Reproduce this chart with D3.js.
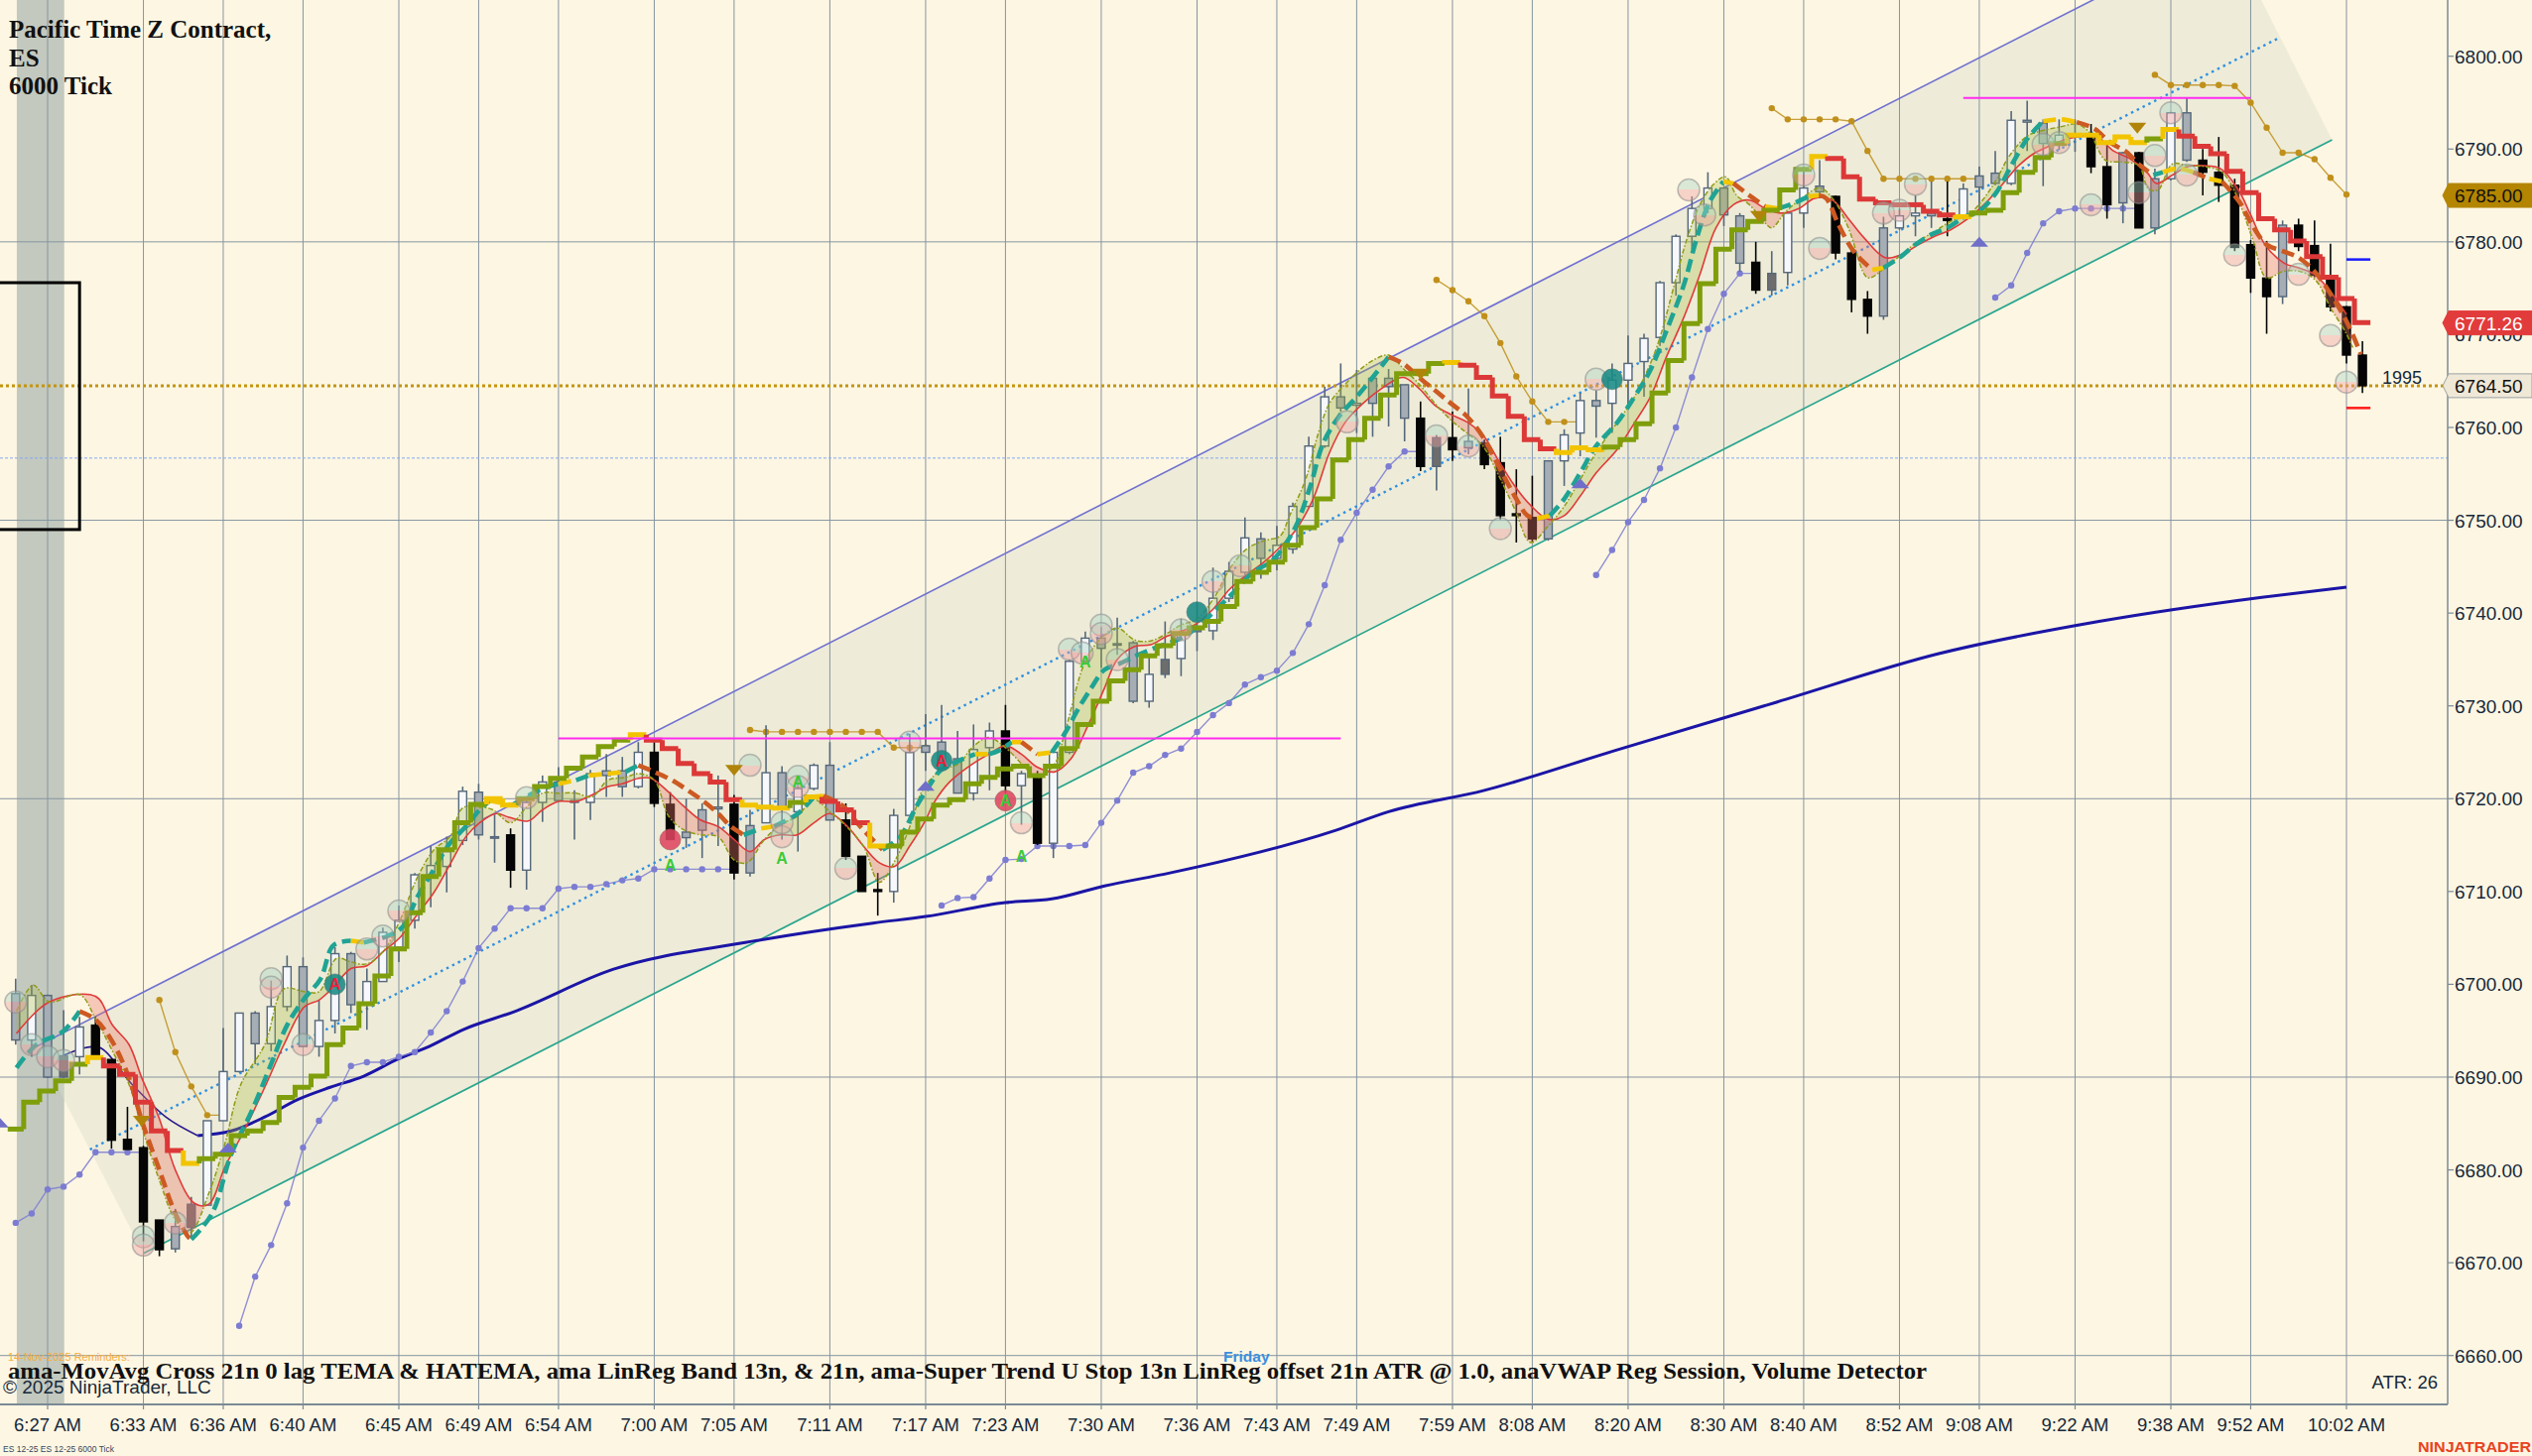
<!DOCTYPE html>
<html>
<head>
<meta charset="utf-8">
<script src="https://cdn.jsdelivr.net/npm/d3@7/dist/d3.min.js"></script>
<style>
  html, body { margin: 0; padding: 0; background: #fdf6e3; }
  svg { display: block; }
</style>
</head>
<body>
<div id="chart"></div>
<script>
// ES 12-25, 6000 tick, Pacific time. Bar index 0 = the 6:27 AM bar.
const firstBar = -2;

const opens = [6694.0, 6694.0, 6698.8, 6692.3, 6692.2, 6695.6, 6691.9, 6683.3, 6682.4, 6674.6,
  6671.5, 6673.8, 6676.2, 6685.3, 6690.6, 6696.9, 6693.6, 6697.6, 6701.9, 6693.3,
  6696.1, 6703.3, 6697.8, 6700.3, 6704.0, 6706.9, 6711.8, 6712.7, 6715.5, 6720.7,
  6715.9, 6716.1, 6712.3, 6719.6, 6719.8, 6719.8, 6719.6, 6722.5, 6723.0, 6721.3,
  6725.0, 6719.4, 6716.4, 6718.8, 6719.1, 6719.4, 6712.0, 6717.4, 6722.8, 6718.6,
  6721.1, 6723.6, 6717.7, 6713.8, 6710.2, 6710.0, 6718.2, 6725.0, 6723.2, 6724.3,
  6720.6, 6725.5, 6727.3, 6721.4, 6722.5, 6715.2, 6725.0, 6734.8, 6737.3, 6736.7,
  6736.8, 6730.5, 6735.0, 6735.1, 6738.2, 6738.1, 6741.6, 6744.4, 6748.0, 6745.9,
  6746.9, 6751.5, 6758.0, 6763.3, 6762.4, 6762.6, 6765.3, 6764.6, 6761.0, 6755.8,
  6758.9, 6758.5, 6758.3, 6756.2, 6750.7, 6750.3, 6748.0, 6756.4, 6759.4, 6762.9,
  6762.6, 6765.1, 6767.1, 6769.7, 6775.6, 6780.6, 6783.6, 6785.8, 6782.8, 6777.8,
  6774.8, 6776.7, 6783.1, 6785.4, 6784.9, 6778.8, 6773.8, 6772.0, 6781.5, 6782.8,
  6783.1, 6782.5, 6782.7, 6785.9, 6786.3, 6786.3, 6793.1, 6792.8, 6790.6, 6791.6,
  6791.3, 6788.1, 6784.2, 6789.6, 6781.5, 6786.8, 6793.9, 6788.8, 6787.5, 6786.1,
  6779.7, 6776.1, 6774.1, 6781.8, 6779.6, 6776.0, 6773.0, 6767.8];

const highs = [6700.6, 6699.9, 6698.9, 6697.2, 6696.5, 6696.5, 6691.9, 6686.8, 6682.6, 6674.6,
  6675.8, 6677.1, 6685.3, 6695.3, 6696.9, 6697.1, 6700.4, 6703.1, 6702.9, 6698.3,
  6704.0, 6703.5, 6701.7, 6706.1, 6708.5, 6712.0, 6714.9, 6715.9, 6721.3, 6721.6,
  6718.3, 6716.8, 6719.8, 6722.5, 6723.4, 6720.9, 6723.1, 6724.8, 6724.5, 6726.1,
  6726.1, 6720.7, 6720.0, 6719.5, 6722.5, 6720.4, 6718.8, 6727.9, 6723.5, 6722.5,
  6723.8, 6726.1, 6719.5, 6713.8, 6712.0, 6718.9, 6727.0, 6729.1, 6730.1, 6727.3,
  6728.0, 6728.2, 6730.1, 6723.0, 6723.0, 6725.5, 6735.0, 6738.0, 6738.5, 6739.5,
  6737.0, 6735.5, 6739.1, 6739.4, 6741.2, 6744.9, 6745.5, 6750.3, 6748.7, 6749.4,
  6751.9, 6759.0, 6764.4, 6766.9, 6766.2, 6765.4, 6766.3, 6764.6, 6762.8, 6759.2,
  6761.7, 6764.2, 6758.7, 6759.0, 6755.5, 6754.8, 6756.4, 6759.8, 6763.7, 6764.0,
  6766.9, 6769.9, 6770.1, 6775.8, 6780.8, 6784.9, 6787.5, 6785.8, 6783.1, 6780.0,
  6779.0, 6783.3, 6788.1, 6788.8, 6785.0, 6779.3, 6774.7, 6782.7, 6783.6, 6785.0,
  6786.5, 6786.5, 6786.3, 6788.1, 6789.8, 6794.1, 6795.2, 6793.2, 6793.2, 6793.2,
  6792.7, 6790.4, 6789.7, 6789.7, 6787.9, 6794.0, 6795.5, 6790.0, 6791.3, 6786.8,
  6780.2, 6780.1, 6782.3, 6782.5, 6782.3, 6779.8, 6773.1, 6769.3];

const lows = [6693.5, 6692.2, 6689.9, 6689.9, 6690.3, 6692.0, 6682.3, 6682.2, 6672.3, 6670.7,
  6671.1, 6672.8, 6676.2, 6685.3, 6690.5, 6691.4, 6692.8, 6697.1, 6693.3, 6692.2,
  6694.7, 6696.9, 6695.1, 6700.3, 6702.4, 6706.0, 6708.3, 6709.9, 6715.0, 6715.6,
  6713.1, 6710.4, 6710.2, 6717.5, 6719.7, 6715.6, 6717.7, 6720.2, 6720.2, 6721.1,
  6719.1, 6715.6, 6714.7, 6713.6, 6714.9, 6711.3, 6711.6, 6717.4, 6715.6, 6714.3,
  6720.9, 6717.7, 6713.4, 6710.0, 6707.4, 6708.8, 6718.2, 6723.0, 6723.2, 6720.6,
  6719.8, 6720.9, 6720.6, 6717.2, 6715.0, 6713.6, 6724.8, 6734.6, 6734.1, 6735.5,
  6730.3, 6729.8, 6733.0, 6733.2, 6735.9, 6737.1, 6741.2, 6744.1, 6743.7, 6744.6,
  6746.4, 6751.4, 6757.8, 6761.7, 6759.4, 6759.0, 6760.1, 6758.5, 6755.3, 6753.2,
  6756.4, 6757.1, 6755.5, 6750.1, 6747.6, 6747.6, 6747.8, 6753.7, 6756.9, 6758.9,
  6759.4, 6762.2, 6763.3, 6768.8, 6774.2, 6779.2, 6783.1, 6781.7, 6776.8, 6774.4,
  6774.2, 6775.3, 6781.5, 6784.7, 6778.1, 6772.4, 6770.1, 6771.6, 6781.3, 6780.6,
  6781.5, 6780.6, 6782.4, 6783.3, 6786.1, 6786.1, 6789.8, 6786.0, 6789.9, 6789.7,
  6787.4, 6782.5, 6782.0, 6781.5, 6780.8, 6786.6, 6788.6, 6785.0, 6784.3, 6779.0,
  6774.5, 6770.1, 6773.3, 6779.0, 6776.2, 6772.5, 6766.9, 6763.7];

const closes = [6699.0, 6698.8, 6690.0, 6690.0, 6695.4, 6692.2, 6683.2, 6682.2, 6674.4, 6671.4,
  6673.9, 6676.3, 6685.3, 6690.6, 6696.9, 6693.6, 6697.6, 6701.9, 6693.3, 6696.1,
  6703.3, 6697.8, 6700.3, 6705.6, 6706.9, 6711.8, 6712.8, 6714.3, 6720.8, 6716.1,
  6715.9, 6712.3, 6719.6, 6721.8, 6721.8, 6719.6, 6722.7, 6723.0, 6721.3, 6725.0,
  6719.5, 6715.6, 6715.8, 6716.6, 6718.9, 6712.0, 6717.1, 6722.8, 6719.0, 6721.1,
  6723.6, 6717.7, 6713.8, 6710.0, 6710.0, 6718.2, 6725.0, 6725.7, 6726.1, 6720.6,
  6725.3, 6727.3, 6721.4, 6722.7, 6715.2, 6725.0, 6734.8, 6737.3, 6736.2, 6736.6,
  6730.5, 6733.4, 6733.4, 6737.8, 6738.0, 6741.6, 6744.5, 6748.1, 6745.9, 6747.3,
  6751.5, 6758.0, 6763.3, 6762.1, 6762.6, 6765.3, 6764.4, 6761.0, 6755.8, 6758.9,
  6757.6, 6757.8, 6756.0, 6750.5, 6750.5, 6748.0, 6756.4, 6759.2, 6762.9, 6762.3,
  6765.1, 6766.9, 6769.6, 6775.6, 6780.6, 6783.6, 6785.8, 6782.9, 6777.7, 6774.8,
  6776.6, 6783.1, 6785.8, 6786.0, 6778.8, 6773.8, 6772.0, 6781.5, 6782.8, 6783.1,
  6782.8, 6782.3, 6785.7, 6787.1, 6787.4, 6793.1, 6792.9, 6790.6, 6791.5, 6791.3,
  6788.1, 6784.0, 6789.6, 6781.5, 6786.8, 6793.9, 6788.8, 6787.5, 6786.1, 6779.4,
  6776.1, 6774.1, 6781.8, 6779.5, 6776.4, 6773.0, 6767.8, 6764.5];

// bars painted grey / dark grey by the chart style
const greyBars = [-2, 0, 8, 13, 16, 19, 27, 28, 32, 33, 35, 36, 40, 41, 42, 44, 46, 49, 55, 56, 57,
  66, 67, 68, 72, 76, 81, 83, 84, 85, 89, 94, 97, 105, 106, 111, 115, 118, 121, 122, 124,
  125, 127, 130, 132, 134, 140];
const darkBars = [1, 9, 70, 87, 108];

const tickBars = [0, 6, 11, 16, 22, 27, 32, 38, 43, 49, 55, 60, 66, 72, 77, 82, 88, 93, 99, 105,
  110, 116, 121, 127, 133, 138, 144];
const tickLabels = ['6:27 AM', '6:33 AM', '6:36 AM', '6:40 AM', '6:45 AM', '6:49 AM', '6:54 AM',
  '7:00 AM', '7:05 AM', '7:11 AM', '7:17 AM', '7:23 AM', '7:30 AM', '7:36 AM', '7:43 AM',
  '7:49 AM', '7:59 AM', '8:08 AM', '8:20 AM', '8:30 AM', '8:40 AM', '8:52 AM', '9:08 AM',
  '9:22 AM', '9:38 AM', '9:52 AM', '10:02 AM'];
const priceTicks = [6660, 6670, 6680, 6690, 6700, 6710, 6720, 6730, 6740, 6750, 6760, 6770, 6780, 6790, 6800];
const gridPrices = [6660, 6690, 6720, 6750, 6780];

// anaVWAP session line [bar, price]
const vwap = [[0.95, 6692.3], [3, 6693.3], [5.3, 6689.2], [7.4, 6685.7], [9.4, 6683.7], [11.5, 6684.2],
  [13.6, 6685.7], [15.7, 6687.6], [17.7, 6688.9], [19.8, 6690.1], [21.9, 6691.9], [23.9, 6693.3],
  [26, 6695.1], [29.3, 6697.1], [35.4, 6701.6], [43.7, 6704.5], [51.7, 6706.6], [55, 6707.3],
  [60, 6708.8], [62.9, 6709.2], [66.2, 6710.6], [70.3, 6712.0], [80.7, 6716.6], [84, 6718.6],
  [90, 6720.9], [98.2, 6725.2], [108.3, 6730.4], [118.4, 6735.6], [128.5, 6739.1], [138.7, 6741.7],
  [144, 6742.8]];
const vwapThinUntil = 9.4;

// linear regression channel ends [bar, price]
const chanUpper = [[-0.7, 6693.3], [136.5, 6813.4]];
const chanMid = [[2.65, 6682.2], [139.8, 6802.0]];
const chanLower = [[6, 6671.0], [143.1, 6791.0]];

// thin red average and olive dotted average [bar, price]
const fastMA = [[-1.95, 6694.7], [0.1, 6698.1], [3.0, 6698.7], [4.06, 6695.6], [5.1, 6693.5], [5.9, 6689.9],
  [7.0, 6685.5], [8.0, 6680.0], [9.2, 6676.4], [10.1, 6676.3], [11.1, 6680.3], [12.3, 6684.2],
  [13.6, 6688.9], [14.8, 6693.5], [16.1, 6697.6], [17.0, 6698.3], [17.9, 6699.7], [19.0, 6701.7],
  [20.0, 6702.0], [21.0, 6703.5], [22.1, 6705.1], [23.1, 6707.4], [24.2, 6709.9], [25.2, 6712.9],
  [26.2, 6715.9], [27.06, 6717.4], [28.1, 6718.4], [28.9, 6718.0], [30.1, 6717.6], [31.0, 6718.8],
  [32.0, 6719.7], [33.1, 6719.7], [34.1, 6720.4], [35.1, 6721.3], [36.0, 6721.6], [37.0, 6722.2],
  [37.8, 6722.2], [38.9, 6720.7], [39.9, 6719.1], [40.9, 6717.7], [42.0, 6717.0], [43.0, 6715.6],
  [44.0, 6714.3], [44.9, 6715.6], [45.9, 6716.1], [46.95, 6716.1], [48.0, 6717.4], [49.0, 6718.4],
  [50.1, 6717.0], [51.1, 6714.9], [52.1, 6713.1], [53.06, 6712.7], [54.0, 6714.9], [55.0, 6717.7],
  [55.5, 6719.5], [56.5, 6721.8], [57.9, 6723.7], [58.96, 6724.8], [60.0, 6725.7], [61.0, 6724.8],
  [62.0, 6723.4], [63.1, 6722.9], [64.1, 6724.3], [65.2, 6728.0], [66.2, 6731.9], [67.0, 6735.0],
  [68.1, 6736.4], [69.1, 6736.6], [70.1, 6737.5], [71.0, 6738.0], [72.0, 6738.9], [73.05, 6740.5],
  [74.06, 6742.6], [75.1, 6744.1], [76.2, 6745.5], [77.2, 6747.1], [78.2, 6749.0], [79.3, 6752.4],
  [80.3, 6757.3], [81.3, 6760.6], [82.4, 6762.6], [83.4, 6764.0], [84.9, 6765.4], [85.9, 6764.2],
  [86.9, 6762.4], [87.9, 6761.4], [88.9, 6760.6], [89.9, 6759.2], [90.9, 6756.4], [91.9, 6753.7],
  [92.9, 6751.6], [94.0, 6750.1], [95.0, 6750.5], [96.0, 6752.6], [97.0, 6755.1], [98.3, 6757.6],
  [99.4, 6760.5], [100.4, 6763.3], [101.4, 6767.6], [102.5, 6771.9], [103.5, 6776.5], [104.5, 6781.5],
  [105.6, 6784.0], [106.6, 6784.5], [107.6, 6783.6], [108.6, 6783.1], [109.7, 6783.6], [110.7, 6784.7],
  [111.8, 6784.5], [112.8, 6782.5], [113.8, 6780.4], [115.1, 6778.3], [116.1, 6778.6], [117.2, 6779.7],
  [118.2, 6780.6], [119.2, 6781.3], [120.3, 6782.5], [121.3, 6784.0], [122.4, 6786.1], [123.4, 6788.1],
  [124.4, 6789.5], [125.5, 6790.4], [126.5, 6791.1], [127.5, 6791.4], [128.4, 6791.3], [129.4, 6789.8],
  [130.4, 6789.0], [131.5, 6787.5], [132.1, 6786.3], [133.1, 6787.2], [134.05, 6788.1], [135.1, 6788.2],
  [136.1, 6787.9], [137.2, 6785.7], [138.0, 6782.9], [138.9, 6779.7], [140.1, 6777.7], [141.0, 6777.2],
  [142.0, 6776.5], [143.1, 6774.4], [144.0, 6772.2]];

const slowMA = [[-1.95, 6697.1], [-0.9, 6699.9], [0.1, 6698.1], [2.0, 6698.9], [3.0, 6696.3], [4.06, 6692.8],
  [5.1, 6689.2], [5.9, 6684.6], [7.0, 6678.9], [8.0, 6674.6], [8.9, 6673.2], [10.1, 6677.5],
  [11.1, 6682.8], [12.1, 6689.2], [13.6, 6693.5], [14.8, 6699.5], [16.1, 6699.2], [17.0, 6699.2],
  [18.1, 6702.8], [19.0, 6702.4], [20.0, 6702.2], [21.0, 6703.5], [22.1, 6707.0], [23.1, 6711.3],
  [24.2, 6714.5], [25.2, 6715.9], [26.0, 6719.0], [27.1, 6719.1], [27.9, 6718.8], [29.0, 6717.4],
  [30.0, 6719.1], [31.0, 6720.6], [32.0, 6720.6], [33.1, 6720.6], [34.1, 6720.2], [35.1, 6722.0],
  [36.2, 6722.3], [37.0, 6722.7], [38.0, 6722.0], [38.9, 6718.1], [39.9, 6716.6], [40.9, 6716.1],
  [42.0, 6715.9], [43.0, 6713.4], [43.8, 6713.1], [44.9, 6715.6], [45.9, 6717.2], [46.95, 6718.1],
  [48.0, 6719.9], [49.0, 6718.6], [50.05, 6717.0], [51.1, 6714.9], [52.1, 6711.0], [53.1, 6713.4],
  [54.1, 6717.4], [54.8, 6720.9], [55.9, 6723.0], [57.1, 6723.8], [57.9, 6725.5], [58.96, 6726.6],
  [60.0, 6725.5], [61.0, 6723.8], [62.0, 6722.3], [63.1, 6723.8], [63.7, 6727.0], [65.0, 6734.8],
  [66.0, 6737.3], [67.0, 6738.4], [68.1, 6737.1], [69.1, 6737.0], [70.1, 6737.8], [70.97, 6738.7],
  [72.0, 6739.4], [73.05, 6741.6], [74.06, 6744.8], [75.1, 6746.9], [76.2, 6747.8], [77.2, 6748.3],
  [77.8, 6750.5], [78.8, 6754.4], [79.6, 6759.4], [80.3, 6762.6], [81.3, 6764.7], [82.4, 6766.5],
  [83.2, 6767.4], [84.0, 6767.8], [85.0, 6766.2], [85.9, 6764.7], [86.9, 6762.6], [87.9, 6760.8],
  [88.9, 6759.4], [89.9, 6758.0], [90.9, 6754.8], [91.9, 6751.2], [92.9, 6747.6], [94.0, 6749.4],
  [95.0, 6751.5], [96.0, 6754.4], [97.0, 6757.3], [98.3, 6760.5], [99.4, 6763.3], [100.4, 6766.9],
  [101.0, 6769.7], [101.9, 6775.4], [102.7, 6780.4], [103.5, 6784.0], [104.3, 6786.1], [105.1, 6787.0],
  [105.8, 6785.0], [106.6, 6784.0], [107.6, 6782.0], [108.0, 6781.5], [108.9, 6783.3], [109.9, 6784.7],
  [111.0, 6785.8], [111.8, 6784.7], [112.8, 6781.5], [113.8, 6776.5], [114.1, 6776.1], [115.1, 6777.2],
  [116.1, 6778.6], [117.2, 6780.1], [118.2, 6781.1], [119.2, 6782.2], [120.3, 6782.9], [121.3, 6784.7],
  [122.1, 6786.8], [122.9, 6789.3], [124.0, 6791.4], [125.0, 6792.0], [126.1, 6792.4], [127.1, 6792.7],
  [127.9, 6791.8], [128.9, 6788.8], [130.0, 6788.6], [131.0, 6788.2], [131.6, 6785.7], [132.2, 6785.6],
  [133.1, 6788.4], [134.1, 6788.2], [135.2, 6788.1], [136.2, 6787.5], [137.0, 6785.4], [138.1, 6780.4],
  [139.0, 6776.1], [140.0, 6776.8], [141.1, 6776.8], [142.1, 6775.8], [143.0, 6772.9], [143.9, 6770.4],
  [144.4, 6768.6]];

// 21n zero-lag TEMA (thick dashed, coloured by slope)
const tema = [[-1.95, 6691.0], [-0.7, 6693.5], [0.95, 6694.9], [2.0, 6697.1], [3.0, 6696.2], [4.06, 6693.8],
  [5.1, 6689.9], [5.9, 6685.3], [7.0, 6680.0], [8.0, 6675.3], [8.8, 6672.8], [9.0, 6672.5],
  [10.3, 6675.3], [11.5, 6681.7], [12.8, 6686.4], [14.0, 6691.4], [15.0, 6695.6], [16.1, 6698.5],
  [17.1, 6700.6], [17.9, 6704.2], [19.0, 6704.7], [19.8, 6704.5], [21.3, 6705.2], [22.3, 6706.3],
  [23.1, 6709.2], [24.2, 6712.4], [25.2, 6715.2], [26.2, 6717.0], [27.06, 6718.8], [27.7, 6719.8],
  [29.1, 6719.3], [30.0, 6720.2], [31.0, 6721.1], [32.0, 6721.6], [33.1, 6722.0], [33.9, 6722.5],
  [35.1, 6722.7], [36.2, 6722.9], [37.0, 6723.6], [38.0, 6722.9], [39.1, 6722.0], [40.1, 6720.9],
  [41.1, 6719.7], [42.0, 6718.4], [42.8, 6717.0], [43.6, 6716.1], [44.7, 6716.8], [45.5, 6717.0],
  [47.0, 6718.4], [48.0, 6720.2], [48.6, 6720.3], [49.9, 6719.1], [50.7, 6717.4], [51.5, 6715.9],
  [52.3, 6714.5], [53.4, 6715.9], [54.4, 6719.1], [55.2, 6721.3], [55.9, 6723.0], [57.1, 6724.1],
  [58.1, 6724.8], [58.96, 6724.8], [59.6, 6725.2], [60.4, 6726.1], [61.0, 6726.1], [62.0, 6724.8],
  [62.9, 6725.0], [63.7, 6727.0], [64.6, 6729.8], [65.4, 6732.0], [66.2, 6733.9], [67.2, 6734.6],
  [68.3, 6735.5], [69.3, 6736.2], [70.3, 6736.8], [71.4, 6737.7], [72.4, 6739.1], [73.5, 6740.9],
  [74.5, 6742.6], [75.5, 6744.4], [76.6, 6745.5], [77.2, 6746.6], [78.2, 6749.4], [79.1, 6753.7],
  [79.9, 6758.3], [80.9, 6761.2], [82.0, 6763.3], [83.0, 6765.4], [84.0, 6767.6], [84.9, 6766.9],
  [85.9, 6765.4], [86.9, 6764.0], [87.9, 6762.6], [88.9, 6761.2], [89.9, 6759.0], [90.9, 6755.8],
  [91.9, 6752.6], [92.7, 6750.5], [93.3, 6750.2], [94.1, 6750.5], [95.0, 6752.3], [96.0, 6755.1],
  [97.0, 6758.0], [98.3, 6760.5], [99.4, 6763.3], [100.4, 6766.2], [101.4, 6770.4], [102.5, 6775.4],
  [103.3, 6780.4], [104.1, 6784.3], [104.97, 6786.5], [105.6, 6786.3], [106.6, 6785.0], [107.6, 6783.8],
  [108.4, 6783.6], [109.3, 6784.1], [110.3, 6784.9], [110.96, 6785.0], [111.4, 6784.7], [112.2, 6781.8],
  [113.0, 6779.3], [113.7, 6777.9], [114.3, 6777.0], [115.0, 6777.2], [116.0, 6778.3], [117.0, 6779.7],
  [118.0, 6780.8], [119.0, 6781.5], [120.1, 6782.7], [121.0, 6783.3], [122.1, 6785.4], [123.0, 6788.2],
  [124.0, 6791.1], [125.0, 6793.0], [126.1, 6793.2], [127.1, 6792.9], [128.2, 6792.2], [129.2, 6790.7],
  [130.2, 6789.7], [131.1, 6788.2], [131.9, 6787.2], [132.5, 6787.5], [133.4, 6787.9], [134.4, 6787.5],
  [135.4, 6786.8], [136.2, 6786.5], [137.3, 6784.3], [138.1, 6781.8], [139.0, 6779.7], [140.0, 6779.0],
  [141.0, 6778.3], [142.0, 6776.8], [143.0, 6774.4], [144.1, 6771.1], [144.9, 6767.9]];

// Super Trend U stop, one value per bar from firstBar, and its state runs (U up, D down, F flat)
const stopVals = [6684.4, 6687.3, 6688.5, 6689.6, 6691.4, 6692.1, 6691.2, 6690.3, 6687.3, 6684.2,
  6682.1, 6680.7, 6681.2, 6681.7, 6683.7, 6684.2, 6685.1, 6687.8, 6688.9, 6690.1,
  6693.5, 6695.3, 6697.9, 6700.9, 6703.8, 6707.7, 6711.6, 6714.5, 6717.4, 6719.4,
  6720.0, 6719.3, 6720.0, 6721.3, 6722.2, 6723.3, 6724.5, 6725.6, 6726.3, 6726.9,
  6726.3, 6725.4, 6723.8, 6722.7, 6721.8, 6719.9, 6719.3, 6719.1, 6719.0, 6719.6,
  6720.2, 6719.7, 6718.8, 6717.4, 6714.9, 6714.9, 6716.4, 6717.8, 6719.3, 6719.9,
  6721.6, 6722.3, 6723.2, 6723.5, 6722.5, 6723.5, 6725.4, 6728.0, 6730.5, 6732.7,
  6733.9, 6735.4, 6736.5, 6737.8, 6738.4, 6739.1, 6740.7, 6743.4, 6744.4, 6745.5,
  6747.3, 6749.2, 6752.3, 6756.5, 6758.7, 6761.0, 6763.5, 6765.8, 6765.8, 6766.9,
  6767.0, 6766.7, 6765.4, 6763.4, 6761.2, 6758.7, 6757.7, 6757.3, 6757.8, 6757.6,
  6757.9, 6758.7, 6760.4, 6763.7, 6767.2, 6771.2, 6775.5, 6779.2, 6781.3, 6782.2,
  6783.4, 6785.6, 6787.8, 6789.2, 6789.0, 6787.0, 6784.6, 6784.2, 6784.0, 6784.0,
  6783.3, 6782.9, 6782.7, 6783.1, 6783.4, 6785.3, 6787.5, 6789.1, 6790.6, 6791.5,
  6791.5, 6790.7, 6791.3, 6790.7, 6791.1, 6792.1, 6791.4, 6790.3, 6789.5, 6787.6,
  6785.3, 6782.5, 6781.3, 6780.1, 6778.4, 6776.2, 6773.9, 6771.3];
const stopRuns = [['U', 5], ['F', 1], ['D', 5], ['F', 1], ['U', 18], ['F', 2], ['U', 7], ['F', 1],
  ['D', 6], ['F', 3], ['U', 1], ['F', 1], ['D', 3], ['F', 1], ['U', 35], ['F', 1], ['D', 6],
  ['F', 3], ['U', 13], ['F', 1], ['D', 8], ['F', 1], ['U', 6], ['F', 5], ['U', 1], ['F', 1], ['D', 12]];

// dotted trailing stops: [start bar, values per bar]
const goldStops = [
  [7, [6698.3, 6692.7, 6689.0, 6685.9, 6685.9]],
  [44, [6727.4, 6727.2, 6727.2, 6727.2, 6727.2, 6727.2, 6727.2, 6727.2, 6727.2, 6725.5, 6725.5, 6725.5]],
  [87, [6775.9, 6774.8, 6773.6, 6772.0, 6769.1, 6765.5, 6762.8, 6760.6, 6760.6, 6760.6]],
  [108, [6794.4, 6793.2, 6793.2, 6793.2, 6793.2, 6793.0, 6789.8, 6786.8, 6786.8, 6786.8, 6786.8, 6786.8, 6786.8, 6786.8]],
  [132, [6798.0, 6796.9, 6796.9, 6796.9, 6796.9, 6796.8, 6795.0, 6792.3, 6789.6, 6789.6, 6788.9, 6786.9, 6785.1]]
];
const lavStops = [
  [-2, [6674.3, 6675.3, 6677.9, 6678.2, 6679.5, 6681.9, 6681.9, 6681.9, 6681.9]],
  [12, [6663.2, 6668.5, 6671.9, 6676.4, 6682.4, 6685.3, 6687.7, 6691.2, 6691.6, 6691.6, 6692.2, 6692.7,
    6694.8, 6697.1, 6700.3, 6703.9, 6706.0, 6708.2, 6708.2, 6708.2, 6710.3, 6710.5, 6710.5, 6710.8,
    6711.2, 6711.4, 6712.4, 6712.4, 6712.4, 6712.4, 6712.4, 6712.4]],
  [56, [6708.5, 6709.3, 6709.4, 6711.4, 6713.4, 6713.5, 6714.9, 6714.9, 6714.9, 6715.0, 6717.4, 6719.8,
    6722.8, 6723.5, 6724.7, 6725.4, 6727.2, 6729.0, 6730.3, 6732.3, 6733.1, 6733.8, 6735.7, 6738.8,
    6743.0, 6747.9, 6750.8, 6753.3, 6755.8, 6757.4, 6757.4]],
  [97, [6744.1, 6746.8, 6749.8, 6752.2, 6755.6, 6760.0, 6765.4, 6770.6, 6774.4, 6776.6, 6776.6]],
  [122, [6774.0, 6775.3, 6778.8, 6782.0, 6783.3, 6783.6, 6783.6, 6783.6, 6783.6, 6783.6]]
];

// Volume Detector marks [bar, price]
const vdPlain = [[-2, 6698.1], [-1, 6693.5], [0, 6692.2], [1, 6691.8], [6, 6672.8], [6, 6671.9], [8, 6674.3],
  [14, 6700.6], [14, 6699.7], [16, 6693.5], [20, 6703.8], [21, 6705.2], [22, 6707.9], [30, 6720.1],
  [44, 6723.6], [46, 6715.9], [46, 6717.4], [47, 6722.4], [47, 6721.3], [50, 6712.5], [54, 6726.1],
  [61, 6717.4], [64, 6736.1], [64.8, 6735.7], [66, 6738.7], [66, 6737.8], [67, 6735.0], [71, 6738.2],
  [73, 6743.4], [74.7, 6745.1], [81.4, 6760.6], [87, 6759.1], [89, 6758.0], [91, 6749.1], [97, 6765.2],
  [102.8, 6785.6], [103.8, 6782.9], [110, 6787.2], [111, 6779.3], [115, 6783.1], [116, 6783.4],
  [117, 6786.2], [125, 6790.5], [126, 6790.7], [128, 6784.0], [131, 6785.3], [132, 6789.3],
  [133, 6793.9], [134, 6787.2], [137, 6778.6], [141, 6776.5], [143, 6769.9], [144, 6764.9]];
const vdRed = [[39, 6715.6], [60, 6719.8]];
const vdTeal = [[18, 6700.0], [56, 6724.1], [72, 6740.1], [98, 6765.2]];
const redA = [[18, 6700.0], [56, 6724.1]];
const greenA = [[60, 6719.8], [39, 6712.9], [46, 6713.6], [47, 6721.8], [61, 6713.8], [65, 6734.8]];
const upTriangles = [[-3, 6685.1], [11.3, 6682.4], [55, 6721.4], [96, 6754.0], [121, 6780.0]];
const downTriangles = [[5.9, 6685.3], [43, 6723.1], [86, 6765.8], [107.2, 6782.8], [130.9, 6792.3]];

// horizontal levels
const magentaLevels = [[32, 81, 6726.5], [120, 138, 6795.5]];
const lastPrice = 6764.5;
const blueLevel = 6756.7;
const targetHigh = 6778.1;
const targetLow = 6762.1;
const boxLevels = [6775.6, 6749.0];   // rectangle drawing, right edge at bar 2
const sessionBand = [-1.93, 1.04];
const badges = [[6785.00, 'gold'], [6771.26, 'red'], [6764.50, 'plain']];
const lastVolume = 1995;
const atrValue = 26;

// ---------------------------------------------------------------------------
const W = 2552, H = 1468;
const plotRight = 2467, plotBottom = 1416;
const sans = 'Liberation Sans, Arial, Helvetica, sans-serif';
const serif = 'Liberation Serif, Times New Roman, serif';
const ink = '#16283a';

const x = d3.scaleLinear().domain([0, 144]).range([48, 2365]);
const y = d3.scaleLinear().domain([6660, 6800]).range([1366.7, 56.7]);

const svg = d3.select('#chart').append('svg')
  .attr('width', W)
  .attr('height', H);

svg.append('rect').attr('width', W).attr('height', H).attr('fill', '#fdf6e3');

const defs = svg.append('defs');
defs.append('clipPath').attr('id', 'plotClip')
  .append('rect').attr('width', plotRight).attr('height', plotBottom);

const grad = defs.append('linearGradient').attr('id', 'vdGrad')
  .attr('x1', 0).attr('y1', 0).attr('x2', 0).attr('y2', 1);
grad.append('stop').attr('offset', '0%').attr('stop-color', 'rgba(170,212,196,0.42)');
grad.append('stop').attr('offset', '50%').attr('stop-color', 'rgba(170,212,196,0.42)');
grad.append('stop').attr('offset', '50%').attr('stop-color', 'rgba(238,160,160,0.42)');
grad.append('stop').attr('offset', '100%').attr('stop-color', 'rgba(238,160,160,0.42)');

const g = svg.append('g').attr('clip-path', 'url(#plotClip)');

// session band
g.append('rect')
  .attr('x', x(sessionBand[0]))
  .attr('y', 0)
  .attr('width', x(sessionBand[1]) - x(sessionBand[0]))
  .attr('height', plotBottom)
  .attr('fill', '#c3c9bf');

// regression channel fill
const chanPoly = [chanUpper[0], chanUpper[1], chanLower[1], chanLower[0]];
g.append('path')
  .attr('d', d3.line().x(d => x(d[0])).y(d => y(d[1]))(chanPoly) + 'Z')
  .attr('fill', 'rgba(214,222,200,0.4)');

// grid
g.selectAll('.vgrid')
  .data(tickBars)
  .enter()
  .append('line')
  .attr('x1', d => x(d)).attr('x2', d => x(d))
  .attr('y1', 0).attr('y2', plotBottom)
  .attr('stroke', '#8695a0')
  .attr('stroke-width', 1);

g.selectAll('.hgrid')
  .data(gridPrices)
  .enter()
  .append('line')
  .attr('x1', 0).attr('x2', plotRight)
  .attr('y1', d => y(d)).attr('y2', d => y(d))
  .attr('stroke', '#8695a0')
  .attr('stroke-width', 1);

// channel lines
const straight = d3.line().x(d => x(d[0])).y(d => y(d[1]));
g.append('path').attr('d', straight(chanUpper)).attr('fill', 'none')
  .attr('stroke', '#6f70d0').attr('stroke-width', 1.6);
g.append('path').attr('d', straight(chanLower)).attr('fill', 'none')
  .attr('stroke', '#2aa58e').attr('stroke-width', 1.7);
g.append('path').attr('d', straight(chanMid)).attr('fill', 'none')
  .attr('stroke', '#2f90e2').attr('stroke-width', 2.4)
  .attr('stroke-dasharray', '2.5,4');

// full width levels
g.append('line')
  .attr('x1', 0).attr('x2', plotRight)
  .attr('y1', y(blueLevel)).attr('y2', y(blueLevel))
  .attr('stroke', '#86a8f2').attr('stroke-width', 1)
  .attr('stroke-dasharray', '3,2');
g.append('line')
  .attr('x1', 0).attr('x2', plotRight)
  .attr('y1', y(lastPrice)).attr('y2', y(lastPrice))
  .attr('stroke', '#c4950e').attr('stroke-width', 3)
  .attr('stroke-dasharray', '3,3');

// VWAP, thin while the session is young
const curvy = d3.line().x(d => x(d[0])).y(d => y(d[1])).curve(d3.curveMonotoneX);
g.append('path')
  .attr('d', curvy(vwap.filter(d => d[0] <= vwapThinUntil)))
  .attr('fill', 'none')
  .attr('stroke', '#2a1a8c')
  .attr('stroke-width', 1.6);
g.append('path')
  .attr('d', curvy(vwap.filter(d => d[0] >= vwapThinUntil)))
  .attr('fill', 'none')
  .attr('stroke', '#1b15a6')
  .attr('stroke-width', 3);

// dotted trailing stops
function drawStops(list, color) {
  list.forEach(([start, vals]) => {
    const pts = vals.map((v, k) => [start + k, v]);
    g.append('path')
      .attr('d', straight(pts))
      .attr('fill', 'none')
      .attr('stroke', color)
      .attr('stroke-width', 1.4)
      .attr('opacity', 0.85);
    g.selectAll(null)
      .data(pts)
      .enter()
      .append('circle')
      .attr('cx', d => x(d[0]))
      .attr('cy', d => y(d[1]))
      .attr('r', 3.2)
      .attr('fill', color);
  });
}
drawStops(lavStops, '#7c7cd2');
drawStops(goldStops, '#c0901c');

// candles
const bars = opens.map((o, k) => ({
  i: firstBar + k, o: o, h: highs[k], l: lows[k], c: closes[k]
}));
const bodyW = 8;
function bodyFill(d) {
  if (darkBars.includes(d.i)) return '#6d6d6d';
  if (greyBars.includes(d.i)) return '#a6adb4';
  return d.c >= d.o ? '#f6f8fb' : '#050505';
}
function edgeColor(d) {
  if (darkBars.includes(d.i) || greyBars.includes(d.i)) return '#55677a';
  return d.c >= d.o ? '#55677a' : '#050505';
}

const candle = g.selectAll('.candle')
  .data(bars)
  .enter()
  .append('g')
  .attr('class', 'candle');

candle.append('line')
  .attr('x1', d => x(d.i)).attr('x2', d => x(d.i))
  .attr('y1', d => y(d.h)).attr('y2', d => y(d.l))
  .attr('stroke', edgeColor)
  .attr('stroke-width', 1.6);

candle.append('rect')
  .attr('x', d => x(d.i) - bodyW / 2)
  .attr('y', d => y(Math.max(d.o, d.c)))
  .attr('width', bodyW)
  .attr('height', d => Math.max(1.5, Math.abs(y(d.o) - y(d.c))))
  .attr('fill', bodyFill)
  .attr('stroke', edgeColor)
  .attr('stroke-width', 1.4);

// fill between the two averages, pink when the fast one is on top
const smooth = d3.line().x(d => x(d[0])).y(d => y(d[1])).curve(d3.curveCatmullRom.alpha(0.5));
const slowPath = smooth(slowMA);
const fastRev = smooth(fastMA.slice().reverse());
const bandPath = slowPath + 'L' + fastRev.slice(1) + 'Z';
const s0 = slowMA[0], s1 = slowMA[slowMA.length - 1];
defs.append('clipPath').attr('id', 'aboveSlow').append('path')
  .attr('d', slowPath + `L${x(s1[0]) + 40},${y(s1[1])}L${x(s1[0]) + 40},0L${x(s0[0]) - 40},0L${x(s0[0]) - 40},${y(s0[1])}Z`);
defs.append('clipPath').attr('id', 'belowSlow').append('path')
  .attr('d', slowPath + `L${x(s1[0]) + 40},${y(s1[1])}L${x(s1[0]) + 40},${plotBottom}L${x(s0[0]) - 40},${plotBottom}L${x(s0[0]) - 40},${y(s0[1])}Z`);

g.append('g').attr('clip-path', 'url(#aboveSlow)')
  .append('path').attr('d', bandPath)
  .attr('fill', 'rgba(232,118,104,0.36)');
g.append('g').attr('clip-path', 'url(#belowSlow)')
  .append('path').attr('d', bandPath)
  .attr('fill', 'rgba(168,186,60,0.30)');

g.append('path').attr('d', smooth(fastMA)).attr('fill', 'none')
  .attr('stroke', '#e03a3a').attr('stroke-width', 1.6);
g.append('path').attr('d', slowPath).attr('fill', 'none')
  .attr('stroke', '#8e9c16').attr('stroke-width', 1.5)
  .attr('stroke-dasharray', '5,2,1.5,2');

// TEMA dashed, split into runs of the same slope colour
function slopeColor(a, b) {
  const s = (b[1] - a[1]) / (b[0] - a[0]);
  if (s > 0.45) return '#1fa394';
  if (s < -0.45) return '#cc5a22';
  return '#f3c600';
}
const temaRuns = [];
for (let k = 1; k < tema.length; k++) {
  const col = slopeColor(tema[k - 1], tema[k]);
  const last = temaRuns[temaRuns.length - 1];
  if (last && last.col === col) last.pts.push(tema[k]);
  else temaRuns.push({ col: col, pts: [tema[k - 1], tema[k]] });
}
g.selectAll('.tema')
  .data(temaRuns)
  .enter()
  .append('path')
  .attr('d', d => smooth(d.pts))
  .attr('fill', 'none')
  .attr('stroke', d => d.col)
  .attr('stroke-width', 4.6)
  .attr('stroke-dasharray', '13,6');

// Super Trend step line
const stopState = stopRuns.flatMap(([s, n]) => Array(n).fill(s));
const stateColor = { U: '#7f9e0b', D: '#dc3838', F: '#f2c400' };
const steps = stopVals.map((v, k) => ({
  i: firstBar + k, v: v, prev: k > 0 ? stopVals[k - 1] : v, s: stopState[k]
}));
g.selectAll('.step')
  .data(steps)
  .enter()
  .append('path')
  .attr('d', d => `M${x(d.i - 0.5)},${y(d.prev)}V${y(d.v)}H${x(d.i + 0.5)}`)
  .attr('fill', 'none')
  .attr('stroke', d => stateColor[d.s])
  .attr('stroke-width', 5)
  .attr('stroke-linejoin', 'miter');

// Volume Detector circles
g.selectAll('.vd')
  .data(vdPlain)
  .enter()
  .append('circle')
  .attr('cx', d => x(d[0]))
  .attr('cy', d => y(d[1]))
  .attr('r', 11)
  .attr('fill', 'url(#vdGrad)')
  .attr('stroke', 'rgba(140,140,140,0.55)')
  .attr('stroke-width', 1.5);
g.selectAll('.vdr')
  .data(vdRed)
  .enter()
  .append('circle')
  .attr('cx', d => x(d[0]))
  .attr('cy', d => y(d[1]))
  .attr('r', 10.5)
  .attr('fill', 'rgba(224,70,96,0.88)')
  .attr('stroke', 'rgba(150,90,90,0.6)');
g.selectAll('.vdt')
  .data(vdTeal)
  .enter()
  .append('circle')
  .attr('cx', d => x(d[0]))
  .attr('cy', d => y(d[1]))
  .attr('r', 10.5)
  .attr('fill', 'rgba(24,138,132,0.88)')
  .attr('stroke', 'rgba(90,120,120,0.6)');

function letters(list, color) {
  g.selectAll(null)
    .data(list)
    .enter()
    .append('text')
    .attr('x', d => x(d[0]))
    .attr('y', d => y(d[1]) + 6)
    .attr('text-anchor', 'middle')
    .attr('font-family', sans)
    .attr('font-weight', 'bold')
    .attr('font-size', 16)
    .attr('fill', color)
    .text('A');
}
letters(redA, '#ee1f3d');
letters(greenA, '#3acb3a');

// signal triangles
g.selectAll('.tup')
  .data(upTriangles)
  .enter()
  .append('path')
  .attr('d', d => `M${x(d[0]) - 9},${y(d[1]) + 5}L${x(d[0]) + 9},${y(d[1]) + 5}L${x(d[0])},${y(d[1]) - 5}Z`)
  .attr('fill', '#6f6fc9');
g.selectAll('.tdn')
  .data(downTriangles)
  .enter()
  .append('path')
  .attr('d', d => `M${x(d[0]) - 9},${y(d[1]) - 5}L${x(d[0]) + 9},${y(d[1]) - 5}L${x(d[0])},${y(d[1]) + 6}Z`)
  .attr('fill', '#b0840a');

// magenta levels
g.selectAll('.mag')
  .data(magentaLevels)
  .enter()
  .append('line')
  .attr('x1', d => x(d[0])).attr('x2', d => x(d[1]))
  .attr('y1', d => y(d[2])).attr('y2', d => y(d[2]))
  .attr('stroke', '#ff2cf0')
  .attr('stroke-width', 2);

// target ticks after the last bar
g.append('line')
  .attr('x1', x(144)).attr('x2', x(145.5))
  .attr('y1', y(targetHigh)).attr('y2', y(targetHigh))
  .attr('stroke', '#1a1aff').attr('stroke-width', 2.5);
g.append('line')
  .attr('x1', x(144)).attr('x2', x(145.5))
  .attr('y1', y(targetLow)).attr('y2', y(targetLow))
  .attr('stroke', '#ff1a1a').attr('stroke-width', 2.5);

g.append('text')
  .attr('x', x(145) + 20)
  .attr('y', y(lastPrice) - 2)
  .attr('font-family', sans)
  .attr('font-size', 18)
  .attr('fill', ink)
  .text(lastVolume);

// rectangle drawing object
g.append('rect')
  .attr('x', x(-4))
  .attr('y', y(boxLevels[0]))
  .attr('width', x(2) - x(-4))
  .attr('height', y(boxLevels[1]) - y(boxLevels[0]))
  .attr('fill', 'none')
  .attr('stroke', '#000')
  .attr('stroke-width', 3);

// header text
const title = ['Pacific Time Z Contract,', 'ES', '6000 Tick'];
svg.selectAll('.title')
  .data(title)
  .enter()
  .append('text')
  .attr('x', 9)
  .attr('y', (d, k) => 38 + k * 28.5)
  .attr('font-family', serif)
  .attr('font-weight', 'bold')
  .attr('font-size', 25)
  .attr('fill', '#111')
  .text(d => d);

// bottom texts inside the panel
svg.append('text')
  .attr('x', 8).attr('y', 1371.5)
  .attr('font-family', sans).attr('font-size', 11)
  .attr('fill', '#f6ad3c')
  .text('14-Nov-2025 Reminders:');

svg.append('text')
  .attr('x', x(73.65)).attr('y', 1373)
  .attr('font-family', sans).attr('font-size', 15.5).attr('font-weight', 'bold')
  .attr('fill', '#3a8fe0')
  .text('Friday');

svg.append('text')
  .attr('x', 8).attr('y', 1390)
  .attr('font-family', serif).attr('font-weight', 'bold').attr('font-size', 24)
  .attr('fill', '#111')
  .attr('textLength', 1934).attr('lengthAdjust', 'spacingAndGlyphs')
  .text('ama-MovAvg Cross 21n 0 lag TEMA & HATEMA, ama LinReg Band 13n, & 21n, ama-Super Trend U Stop 13n LinReg offset 21n ATR @ 1.0, anaVWAP Reg Session, Volume Detector');

svg.append('text')
  .attr('x', 3).attr('y', 1405)
  .attr('font-family', sans).attr('font-size', 19)
  .attr('fill', ink)
  .text('© 2025 NinjaTrader, LLC');

svg.append('text')
  .attr('x', 2457).attr('y', 1400)
  .attr('text-anchor', 'end')
  .attr('font-family', sans).attr('font-size', 18.5)
  .attr('fill', ink)
  .text(`ATR: ${atrValue}`);

// axes frame
svg.append('line')
  .attr('x1', 0).attr('x2', plotRight)
  .attr('y1', plotBottom).attr('y2', plotBottom)
  .attr('stroke', '#7b8a95').attr('stroke-width', 2);
svg.append('line')
  .attr('x1', plotRight).attr('x2', plotRight)
  .attr('y1', 0).attr('y2', plotBottom)
  .attr('stroke', '#7b8a95').attr('stroke-width', 1.5);

// time axis
svg.selectAll('.xtick')
  .data(tickBars)
  .enter()
  .append('line')
  .attr('x1', d => x(d)).attr('x2', d => x(d))
  .attr('y1', plotBottom).attr('y2', plotBottom + 5)
  .attr('stroke', '#7b8a95').attr('stroke-width', 1.2);
svg.selectAll('.xlab')
  .data(tickBars)
  .enter()
  .append('text')
  .attr('x', d => x(d))
  .attr('y', 1443)
  .attr('text-anchor', 'middle')
  .attr('font-family', sans)
  .attr('font-size', 18.5)
  .attr('fill', ink)
  .text((d, k) => tickLabels[k]);

// price axis
svg.selectAll('.ytick')
  .data(priceTicks)
  .enter()
  .append('line')
  .attr('x1', plotRight).attr('x2', plotRight + 6)
  .attr('y1', d => y(d)).attr('y2', d => y(d))
  .attr('stroke', '#7b8a95').attr('stroke-width', 1.2);
svg.selectAll('.ylab')
  .data(priceTicks)
  .enter()
  .append('text')
  .attr('x', plotRight + 7)
  .attr('y', d => y(d) + 7)
  .attr('font-family', sans)
  .attr('font-size', 19)
  .attr('fill', ink)
  .text(d => d.toFixed(2));

// price badges
const badgeStyle = {
  gold: { fill: '#b38500', stroke: '#b38500', text: '#111' },
  red: { fill: '#e23b3b', stroke: '#e23b3b', text: '#fff' },
  plain: { fill: '#efe8d6', stroke: '#9aa2a4', text: '#111' }
};
badges.forEach(([p, kind]) => {
  const yc = y(p), st = badgeStyle[kind];
  svg.append('path')
    .attr('d', `M${plotRight - 5},${yc}L${plotRight + 1},${yc - 12}L${W},${yc - 12}L${W},${yc + 12}L${plotRight + 1},${yc + 12}Z`)
    .attr('fill', st.fill)
    .attr('stroke', st.stroke)
    .attr('stroke-width', 1);
  svg.append('text')
    .attr('x', plotRight + 7)
    .attr('y', yc + 7)
    .attr('font-family', sans)
    .attr('font-size', 19)
    .attr('fill', st.text)
    .text(p.toFixed(2));
});

// footer
svg.append('text')
  .attr('x', 3).attr('y', 1464)
  .attr('font-family', sans).attr('font-size', 8.5)
  .attr('fill', '#34475a')
  .text('ES 12-25 ES 12-25 6000 Tick');

svg.append('text')
  .attr('x', 2437).attr('y', 1464)
  .attr('font-family', sans).attr('font-size', 15).attr('font-weight', 'bold')
  .attr('fill', '#e8431e')
  .attr('textLength', 114).attr('lengthAdjust', 'spacingAndGlyphs')
  .text('NINJATRADER');
</script>
</body>
</html>
